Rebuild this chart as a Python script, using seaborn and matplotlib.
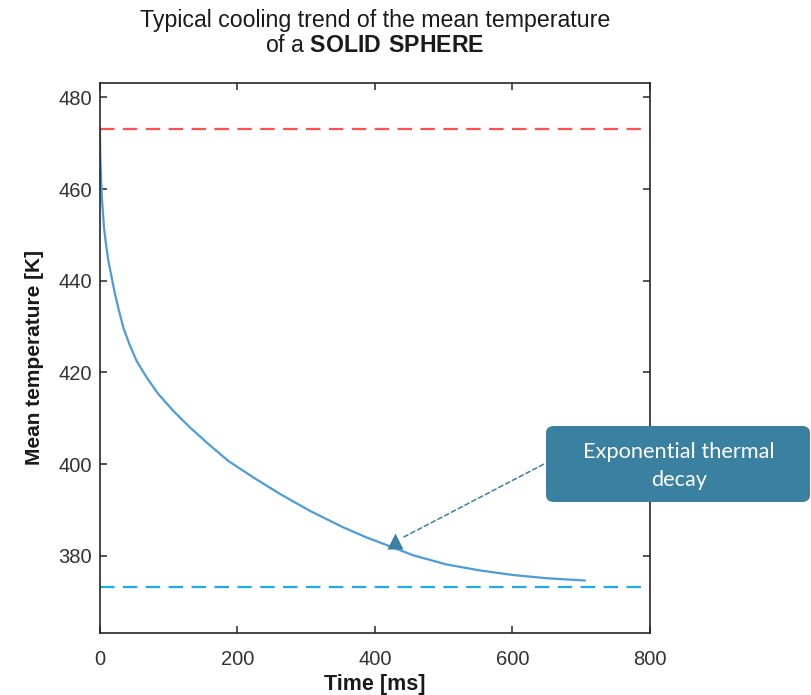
import seaborn as sns
import pandas as pd
import matplotlib.pyplot as plt
from matplotlib.patches import FancyBboxPatch

# values
time_ms = [0, 0.3, 0.8, 2.4, 5.8, 8.7, 12.1, 21.8, 27.6, 33.9, 42.7, 53.3, 67.9, 84.8, 106.7,
           130.9, 157.6, 186.6, 223.0, 261.8, 305.4, 353.9, 387.8, 426.6, 455.7, 504.3,
           552.7, 601.2, 649.7, 705.5]
mean_temp = [473.15, 468.5, 465.5, 458.9, 451.6, 448.0, 444.4, 437.1, 433.5, 429.8, 426.2,
             422.5, 418.9, 415.3, 411.6, 408.0, 404.4, 400.7, 397.1, 393.5, 389.8, 386.2,
             384.0, 381.8, 380.1, 378.1, 376.8, 375.8, 375.1, 374.6]
t_initial = 473.15
t_ambient = 373.15
x_ticks = [0, 200, 400, 600, 800]
y_ticks = [380, 400, 420, 440, 460, 480]

df = pd.DataFrame({'Time': time_ms, 'Temp': mean_temp})

sns.set_style('ticks')
plt.rcParams['font.family'] = ['Liberation Sans', 'DejaVu Sans']
plt.rcParams['mathtext.fontset'] = 'custom'
plt.rcParams['mathtext.rm'] = 'Liberation Sans'
plt.rcParams['mathtext.bf'] = 'Liberation Sans:bold'

fig = plt.figure(figsize=(8.11, 6.95), dpi=100)
ax = fig.add_axes([0.1233, 0.0892, 0.678, 0.7914])

ax.axhline(t_initial, color='#FF5050', lw=1.6, dashes=(6.5, 3.8))
ax.axhline(t_ambient, color='#20A8EC', lw=1.6, dashes=(6.5, 3.8))
sns.lineplot(data=df, x='Time', y='Temp', ax=ax, color='#4C9CDB', lw=1.6)

ax.set_xlim(0, 800)
ax.set_ylim(363.15, 483.15)
ax.set_xticks(x_ticks)
ax.set_yticks(y_ticks)
ax.tick_params(direction='in', length=5, width=1.1, labelsize=14.5,
               color='#262626', labelcolor='#333333', top=True, right=True)
ax.tick_params(axis='y', pad=6)
ax.tick_params(axis='x', pad=12)
for s in ax.spines.values():
    s.set_color('#262626')
    s.set_linewidth(1.2)

ax.set_xlabel('Time [ms]', fontsize=15.5, fontweight='bold', color='#1a1a1a', labelpad=4)
ax.set_ylabel('Mean temperature [K]', fontsize=15, fontweight='bold', color='#1a1a1a', labelpad=10)

fig.text(0.4624, 1 - 20 / 695, 'Typical cooling trend of the mean temperature',
         ha='center', va='center', fontsize=16.7, color='#1a1a1a')
fig.text(0.4624, 1 - 45 / 695, r'of a $\mathbf{SOLID\ SPHERE}$',
         ha='center', va='center', fontsize=16.7, color='#1a1a1a')

# callout box
box_color = '#3A80A1'
box = FancyBboxPatch((546 / 811, 1 - 502 / 695), (264 / 811), (76 / 695),
                     boxstyle='round,pad=0,rounding_size=0.01', transform=fig.transFigure,
                     facecolor=box_color, edgecolor='none', zorder=5)
fig.patches.append(box)
fig.text(679 / 811, 1 - 466 / 695, 'Exponential thermal\ndecay', ha='center', va='center',
         color='white', fontsize=15.7, family=['Lato', 'DejaVu Sans'], linespacing=1.5, zorder=6)

tip_x, tip_y = 429, 383.3
ax.annotate('', xy=(tip_x + 8, tip_y + 0.4), xycoords='data',
            xytext=(546, 695 - 463), textcoords='figure pixels',
            arrowprops=dict(arrowstyle='-', color=box_color, lw=1.1, linestyle=(0, (3, 2))))
ax.plot([tip_x], [tip_y], marker='^', ms=11, color=box_color, mec='none')

fig.savefig('out.png', dpi=100)
